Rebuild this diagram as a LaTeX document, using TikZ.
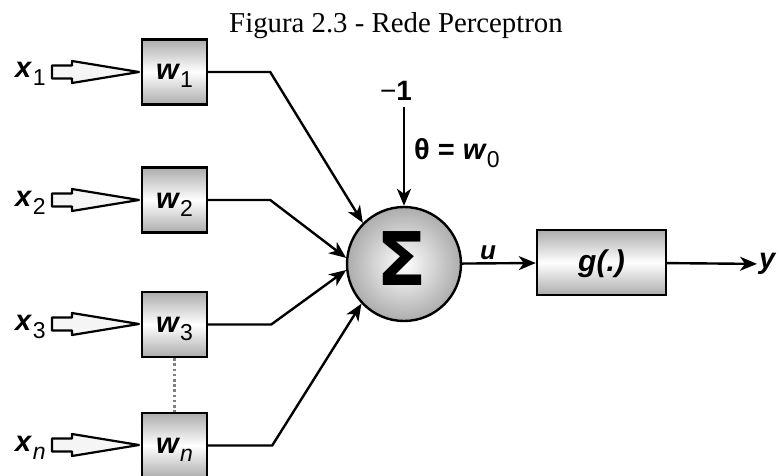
\documentclass[tikz,border=0pt]{standalone}
\usepackage{fontspec}
\setmainfont{Liberation Serif}
\newfontfamily\labfont{Liberation Sans}
\newfontfamily\sigmafont{DejaVu Sans}
\usetikzlibrary{arrows.meta, positioning, calc}

\newcommand{\varsub}[2]{{\bfseries\itshape #1}\kern1.5pt\raisebox{-8pt}{\fontsize{23}{23}\selectfont #2}}

\begin{document}
\begin{tikzpicture}[
    x=1pt,y=-1pt,
    line width=2.4pt,
    weight/.style={draw, rectangle, minimum width=65pt, minimum height=65pt, inner sep=0pt, text height=27pt, text depth=11pt, top color=gray!65, bottom color=gray!65, middle color=white, font=\labfont\fontsize{29}{29}\selectfont},
    gbox/.style={draw, rectangle, minimum width=129pt, minimum height=65pt, inner sep=0pt, text height=28pt, text depth=10pt, top color=gray!65, bottom color=gray!65, middle color=white, font=\labfont\fontsize{30}{30}\selectfont\bfseries\itshape},
    sumnode/.style={draw, circle, minimum size=114pt, inner sep=0pt, inner color=white, outer color=gray!65},
    lab/.style={font=\labfont\fontsize{29}{29}\selectfont, inner sep=1pt},
    arr/.style={-{Stealth[length=17pt, width=14pt, inset=5pt]}},
    dotline/.style={gray, line width=2.8pt, dash pattern=on 2.6pt off 2.6pt},
    inarrow/.pic={
        \draw[fill=gray!8, line width=2.2pt, line join=round]
            (-44,-6.5) -- (-24,-6.5) -- (-24,-11) -- (43,0) -- (-24,11) -- (-24,6.5) -- (-44,6.5) -- cycle;
    }
]

    \fill[white] (0,0) rectangle (779,476);
    \useasboundingbox (0,0) rectangle (779,476);

    % --- Title ---
    \node[font=\fontsize{28.8}{30}\selectfont, anchor=base] (title) at (396,33) {Figura 2.3 - Rede Perceptron};

    % --- Inputs ---
    \node[lab, anchor=base west] (x1) at (13,78) {\varsub{x}{1}};
    \node[lab, anchor=base west] (x2) at (13,206) {\varsub{x}{2}};
    \node[lab, anchor=base west] (x3) at (13,330) {\varsub{x}{3}};
    \node[lab, anchor=base west] (xn) at (13,451) {\varsub{x}{\itshape n}};

    \pic at (96,72) {inarrow};
    \pic at (96,200) {inarrow};
    \pic at (96,324) {inarrow};
    \pic at (96,445) {inarrow};

    % --- Weights ---
    \node[weight] (w1) at (174.5,72) {\varsub{w}{1}};
    \node[weight] (w2) at (174.5,200) {\varsub{w}{2}};
    \node[weight] (w3) at (174.5,324.5) {\varsub{w}{3}};
    \node[weight] (wn) at (174.5,445.5) {\varsub{w}{\itshape n}};

    \draw[dotline] (w3) -- (wn);

    % --- Summation ---
    \node[sumnode] (sum) at (404,264) {};
    \node[font=\sigmafont\bfseries\fontsize{74}{74}\selectfont] (sigma) at (401.5,259) {Σ};

    \draw[arr] (w1.east) -- ++(62,0) -- (sum.135);
    \draw[arr] (w2.east) -- ++(62,0) -- (sum.174);
    \draw[arr] (w3.east) -- ++(63,0) -- (sum.186);
    \draw[arr] (wn.east) -- ++(64,0) -- (sum.223);

    % --- Bias ---
    \node[lab, font=\labfont\fontsize{28}{28}\selectfont, inner sep=5pt] (bias) at (396,91) {−\textbf{1}};
    \node[lab, anchor=base west] (theta) at (412,160) {\textbf{θ = }\varsub{w}{0}};
    \draw[arr] (bias.south -| sum.north) -- (sum.north);

    % --- Activation and output ---
    \node[gbox] (g) at (601.5,262.5) {g(.)};
    \node[lab, anchor=west] (yout) at (757,264) {\textbf{\textit{y}}};

    \draw[arr] (sum) -- (g) node[pos=0.35, above=1pt, lab, font=\labfont\fontsize{26}{26}\selectfont] {\textbf{\textit{u}}};
    \draw[arr] (g) -- (yout);

\end{tikzpicture}
\end{document}
